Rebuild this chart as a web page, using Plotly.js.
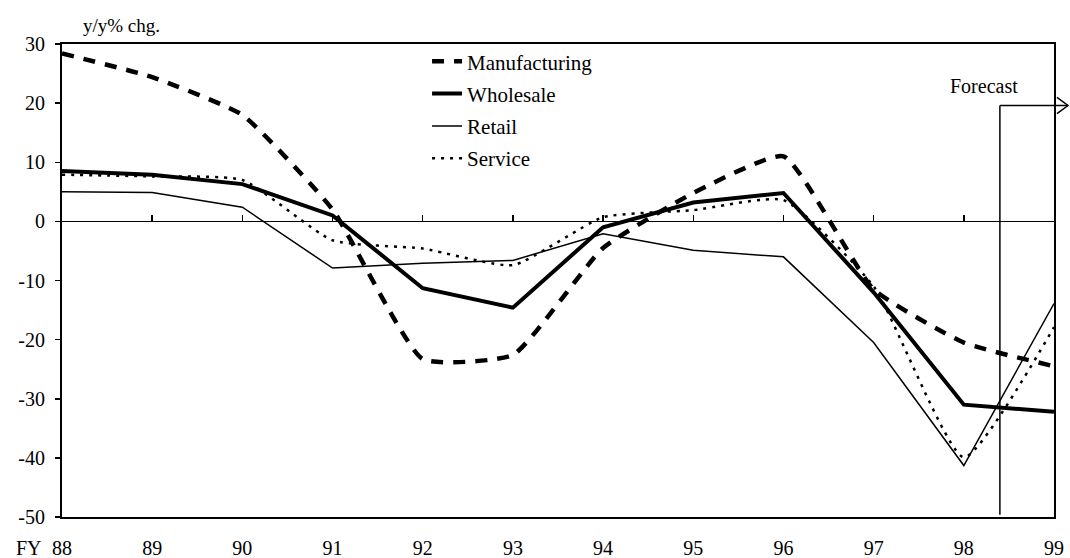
<!DOCTYPE html>
<html>
<head>
<meta charset="utf-8">
<script src="https://cdn.plot.ly/plotly-3.0.1.min.js"></script>
<style>
  html, body { margin: 0; padding: 0; background: #fff; }
  #chart { width: 1070px; height: 558px; }
</style>
</head>
<body>
<div id="chart"></div>
<script>
// Fiscal years (FY 88 .. FY 99)
const years = [88, 89, 90, 91, 92, 93, 94, 95, 96, 97, 98, 99];
const yearLabels = ["88", "89", "90", "91", "92", "93", "94", "95", "96", "97", "98", "99"];

// y axis ticks (plain hyphen as in the original)
const yTickVals = [-50, -40, -30, -20, -10, 0, 10, 20, 30];
const yTickText = ["-50", "-40", "-30", "-20", "-10", "0", "10", "20", "30"];

// y/y % change by sector
const manufacturing = [28.4, 24.4, 18.0, 2.0, -23.3, -22.6, -4.5, 4.8, 11.0, -11.5, -20.5, -24.5];
const wholesale     = [8.5, 7.9, 6.3, 1.0, -11.3, -14.6, -1.0, 3.2, 4.8, -12.0, -31.0, -32.2];
const retail        = [5.0, 4.9, 2.4, -7.9, -7.1, -6.6, -2.1, -4.9, -6.0, -20.5, -41.3, -13.9];
const service       = [7.9, 7.6, 7.0, -3.2, -4.6, -7.4, 0.7, 1.9, 3.6, -11.0, -39.9, -17.9];

// where the forecast bracket starts
const forecastStart = 98.4;
const forecastTop = 19.6;

const xRange = [88, 99];
const yRange = [-50, 30];
const serif = '"Liberation Serif", "Times New Roman", serif';

const traces = [
  {
    x: years, y: manufacturing, name: "Manufacturing", type: "scatter", mode: "lines",
    legendgroup: "m",
    line: { color: "#000", width: 4.5, dash: "12px,10px", shape: "spline", smoothing: 0.45 }
  },
  {
    x: years, y: wholesale, name: "Wholesale", type: "scatter", mode: "lines",
    legendgroup: "w",
    line: { color: "#000", width: 4 }
  },
  {
    x: years, y: retail, name: "Retail", type: "scatter", mode: "lines",
    legendgroup: "r",
    line: { color: "#000", width: 1.5 }
  },
  {
    x: years, y: service, name: "Service", type: "scatter", mode: "lines",
    legendgroup: "s",
    line: { color: "#000", width: 2.5, dash: "3px,6px", shape: "spline", smoothing: 0.5 }
  },
  // empty trace so the tick axis sitting on the zero line gets drawn
  {
    x: years, y: years.map(() => null), xaxis: "x2", type: "scatter", mode: "lines",
    showlegend: false, hoverinfo: "skip"
  }
];

// paper fraction of the forecast start / top
const fx = (forecastStart - xRange[0]) / (xRange[1] - xRange[0]);
const fy = (forecastTop - yRange[0]) / (yRange[1] - yRange[0]);
const zeroPos = (0 - yRange[0]) / (yRange[1] - yRange[0]);

const layout = {
  width: 1070,
  height: 558,
  margin: { l: 62, r: 16, t: 44, b: 41 },
  paper_bgcolor: "#fff",
  plot_bgcolor: "#fff",
  font: { family: serif, color: "#000", size: 20 },
  showlegend: true,
  legend: {
    x: 0.368, y: 1.006, xanchor: "left", yanchor: "top",
    bgcolor: "rgba(0,0,0,0)",
    font: { family: serif, size: 21, color: "#000" },
    traceorder: "grouped",
    tracegroupgap: 2,
    itemwidth: 30
  },
  xaxis: {
    range: xRange,
    tickmode: "array",
    tickvals: years,
    ticktext: yearLabels,
    ticks: "",
    showgrid: false,
    zeroline: false,
    showline: true,
    linewidth: 2,
    linecolor: "#000",
    mirror: true,
    ticklabelstandoff: 12,
    tickfont: { family: serif, size: 20, color: "#000" }
  },
  xaxis2: {
    range: xRange,
    overlaying: "x",
    anchor: "free",
    position: zeroPos,
    side: "bottom",
    tickmode: "linear",
    tick0: 88,
    dtick: 1,
    ticks: "inside",
    ticklen: 6,
    tickwidth: 1.5,
    tickcolor: "#000",
    showticklabels: false,
    showgrid: false,
    zeroline: false,
    showline: false
  },
  yaxis: {
    range: yRange,
    tickmode: "array",
    tickvals: yTickVals,
    ticktext: yTickText,
    ticks: "outside",
    ticklen: 5,
    tickwidth: 1.5,
    tickcolor: "#000",
    showgrid: false,
    zeroline: true,
    zerolinecolor: "#000",
    zerolinewidth: 1.5,
    showline: true,
    linewidth: 2,
    linecolor: "#000",
    mirror: true,
    ticklabelstandoff: 6,
    tickfont: { family: serif, size: 20, color: "#000" }
  },
  shapes: [
    // forecast bracket: vertical line
    {
      type: "line", xref: "x", yref: "y",
      x0: forecastStart, x1: forecastStart, y0: -49.6, y1: forecastTop,
      line: { color: "#000", width: 1.5 }
    },
    // horizontal part running out past the frame
    {
      type: "line", xref: "paper", yref: "paper",
      x0: fx, x1: 1.0141, y0: fy, y1: fy,
      line: { color: "#000", width: 1.5 }
    },
    // open arrow head
    {
      type: "path", xref: "paper", yref: "paper",
      path: "M 1.003 " + (fy + 0.017) + " L 1.0141 " + fy + " L 1.003 " + (fy - 0.017),
      line: { color: "#000", width: 1.5 }
    }
  ],
  annotations: [
    {
      text: "y/y% chg.", xref: "paper", yref: "paper",
      x: 0.019, y: 1.040, xanchor: "left", yanchor: "middle",
      showarrow: false, font: { family: serif, size: 19, color: "#000" }
    },
    {
      text: "FY", xref: "paper", yref: "paper",
      x: -0.018, y: -0.0655, xanchor: "right", yanchor: "middle",
      showarrow: false, font: { family: serif, size: 20, color: "#000" }
    },
    {
      text: "Forecast", xref: "x", yref: "paper",
      x: forecastStart, xshift: -16, y: (517 - 86) / 473, xanchor: "center", yanchor: "middle",
      showarrow: false, font: { family: serif, size: 20, color: "#000" }
    }
  ]
};

Plotly.newPlot("chart", traces, layout, { displayModeBar: false, staticPlot: true });
</script>
</body>
</html>
